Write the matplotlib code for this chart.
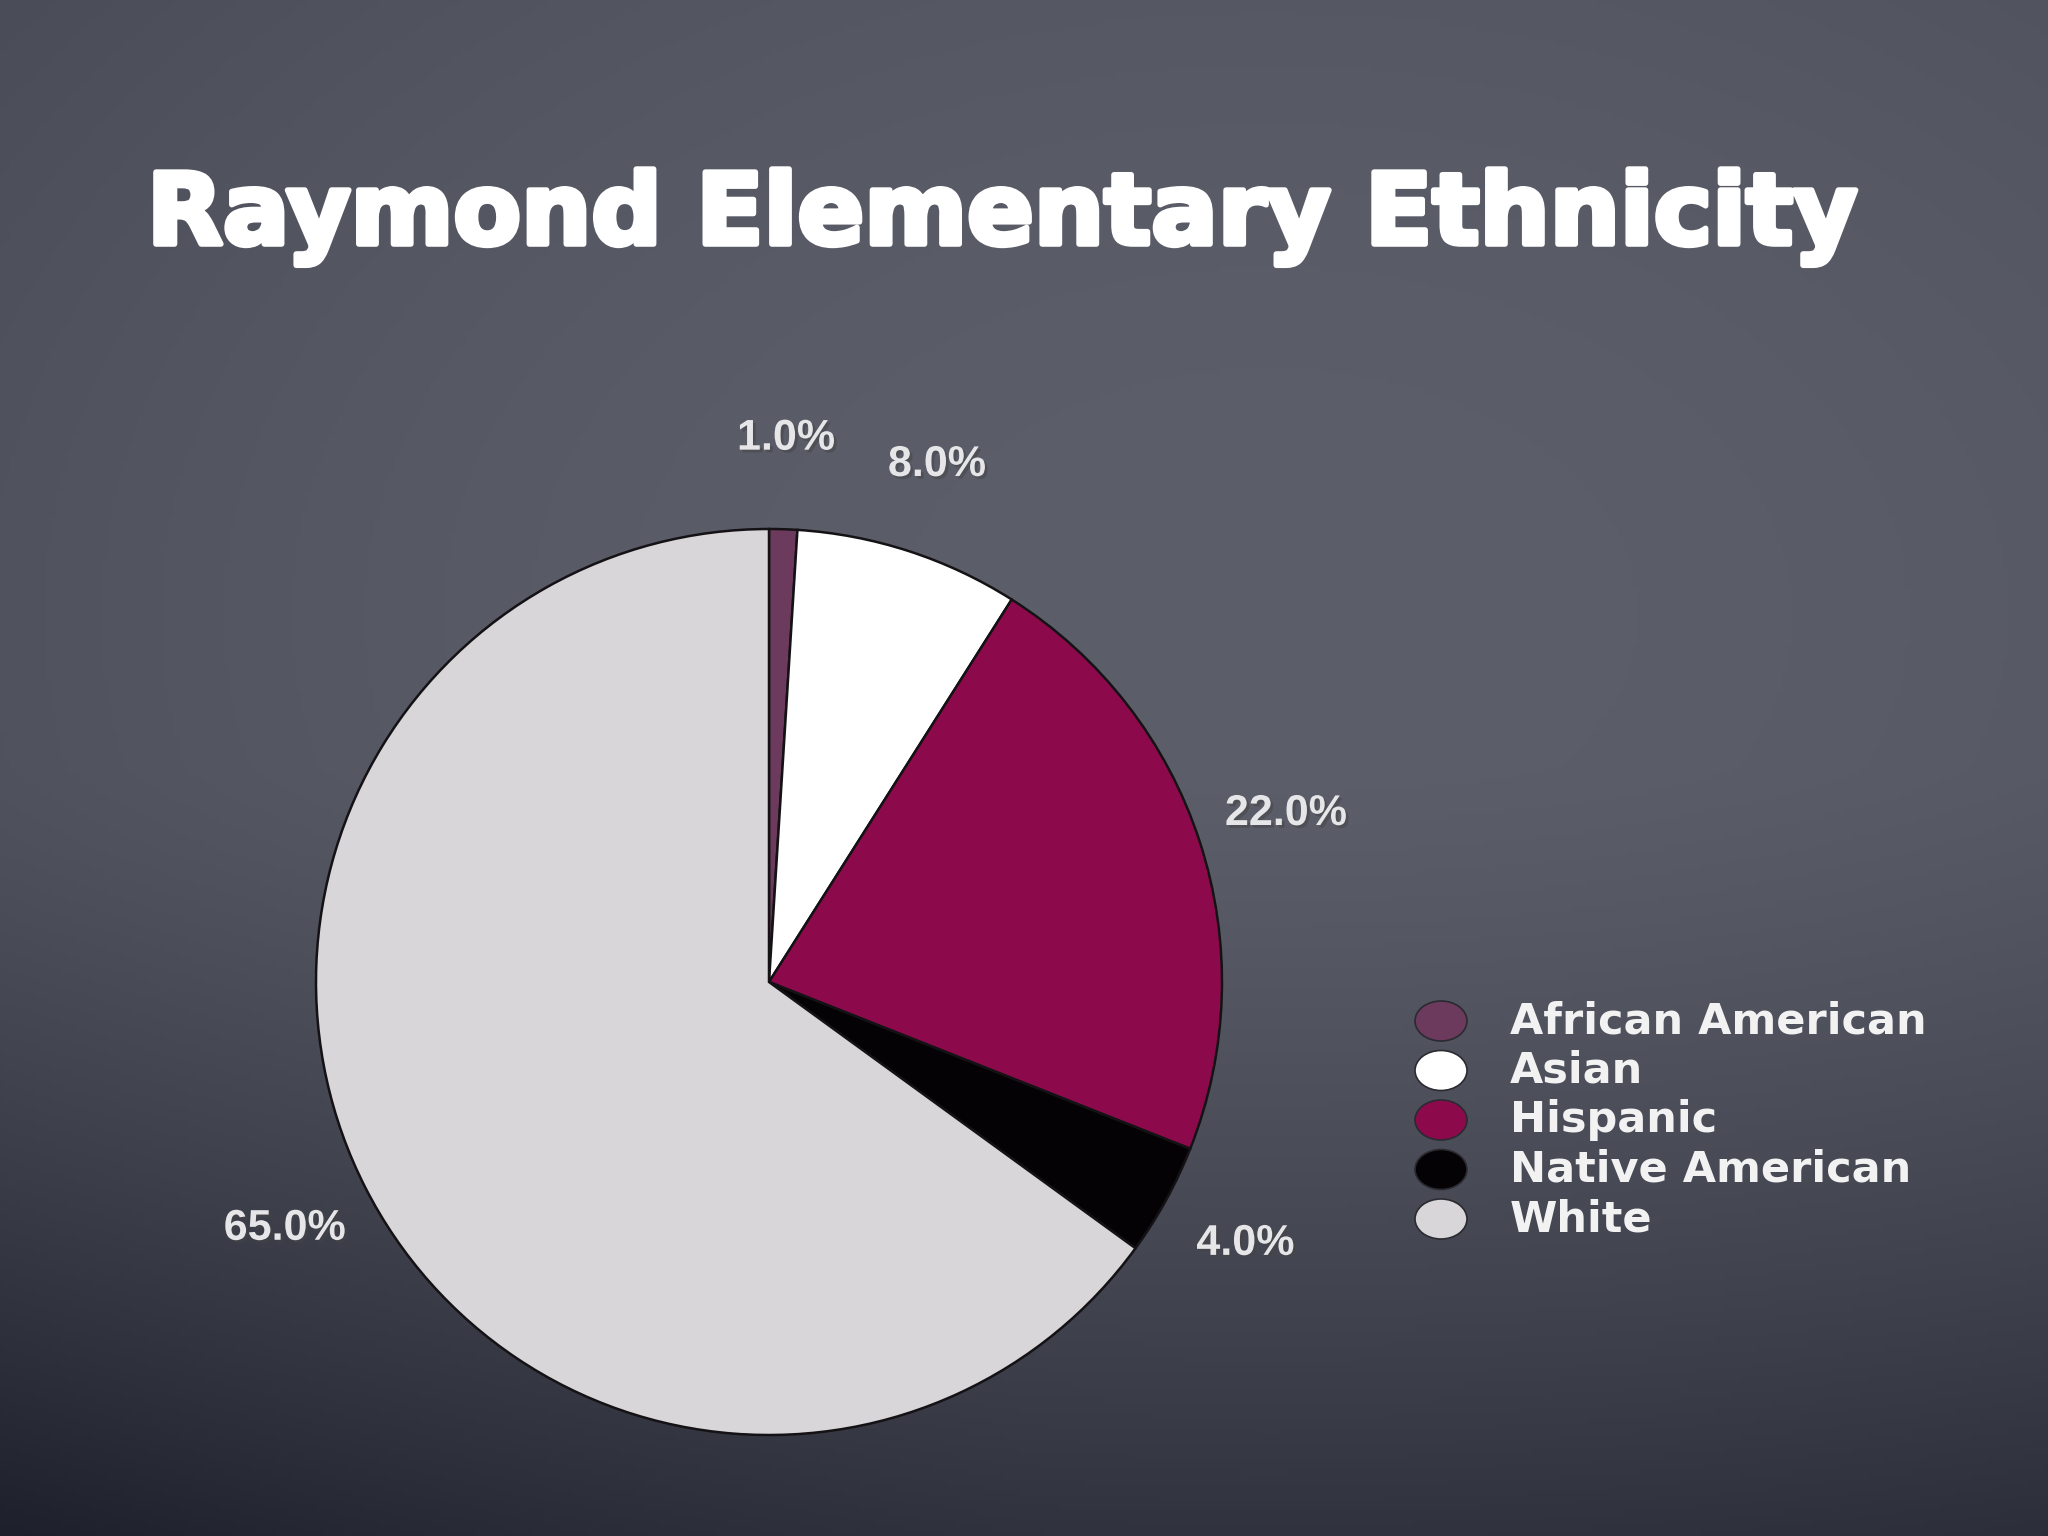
import numpy as np
import matplotlib
matplotlib.use("Agg")
from matplotlib import pyplot as plt
from matplotlib.patches import Ellipse
from matplotlib.transforms import IdentityTransform
import matplotlib.patheffects as pe

# data
groups = ['African American', 'Asian', 'Hispanic', 'Native American', 'White']
shares = [1.0, 8.0, 22.0, 4.0, 65.0]
colors = ['#6b3a5c', '#ffffff', '#8c0a4c', '#050205', '#d8d6d8']
title = 'Raymond Elementary Ethnicity'

W, H = 2048, 1536
fig = plt.figure(figsize=(W / 100, H / 100), dpi=100)

# chalkboard-ish background (just a shaded gradient)
bg = fig.add_axes([0, 0, 1, 1], zorder=-10)
yy, xx = np.mgrid[0:1:300j, 0:1:400j]
r = np.sqrt(((xx - 0.62) / 0.9) ** 2 + ((yy - 0.4) / 0.8) ** 2)
t = 0.4 * np.clip(r, 0, 1) ** 2 + 1.1 * np.clip(yy - 0.5, 0, 1) ** 1.2 \
    + 0.5 * np.clip(yy - 0.55, 0, 1) * np.clip(0.5 - xx, 0, 1)
t = np.clip(t, 0, 1)
light = np.array([92, 94, 106]) / 255
dark = np.array([30, 32, 44]) / 255
img = light[None, None, :] * (1 - t[..., None]) + dark[None, None, :] * t[..., None]
bg.imshow(img, aspect='auto', extent=[0, 1, 0, 1], origin='upper')
bg.axis('off')

# pie
cx, cy, rad = 769, 982, 453
ax = fig.add_axes([(cx - rad) / W, 1 - (cy + rad) / H, 2 * rad / W, 2 * rad / H])
wedges, texts, autotexts = ax.pie(
    shares, colors=colors, startangle=90, counterclock=False,
    autopct='%1.1f%%', pctdistance=1.2,
    wedgeprops=dict(edgecolor='#141214', linewidth=1.8),
    textprops=dict(color='#e6e6e8', fontsize=31, fontweight='bold',
                   family='Liberation Sans'))
for at in autotexts:
    at.set_path_effects([pe.withSimplePatchShadow(offset=(2, -2), alpha=0.5)])
ax.set_xlim(-1, 1)
ax.set_ylim(-1, 1)
ax.axis('off')

# title
fig.text(1002 / W, 1 - 217 / H, title, ha='center', va='center',
         fontsize=71, fontweight='bold', color='white', family='DejaVu Sans',
         path_effects=[pe.withStroke(linewidth=4, foreground='white')])

# legend
x_mark, x_text, y0, dy = 1441, 1510, 1021, 49.5
for i, (g, c) in enumerate(zip(groups, colors)):
    y = H - (y0 + i * dy)
    e = Ellipse((x_mark, y), 52, 40, facecolor=c, edgecolor='#2a2a30',
                linewidth=1.2, transform=IdentityTransform())
    fig.add_artist(e)
    fig.text(x_text / W, y / H, g, ha='left', va='center', fontsize=31,
             fontweight='bold', color='#f2f2f2', family='DejaVu Sans')

fig.savefig('out.png', dpi=100)
